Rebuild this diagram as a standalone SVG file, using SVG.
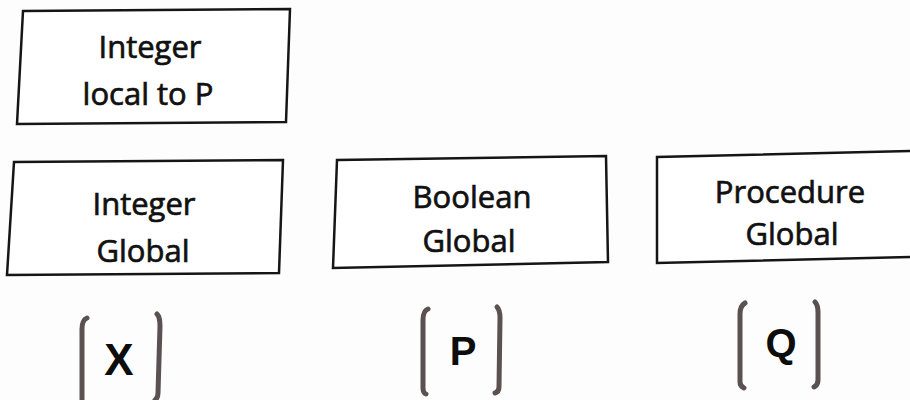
<svg xmlns="http://www.w3.org/2000/svg" width="910" height="400" viewBox="0 0 910 400">
<style>
.box{fill:#fff;stroke:#151515;stroke-width:2.5;stroke-linejoin:miter}
.lbl{font-family:"Open Sans","Noto Sans",sans-serif;font-size:31px;fill:#111;stroke:#111;stroke-width:0.7;text-anchor:middle}
.br{fill:none;stroke:#5a5150;stroke-width:5;stroke-linecap:round;stroke-linejoin:round}
.var{font-family:"Liberation Sans",Arial,sans-serif;font-weight:bold;fill:#0d0d0d;text-anchor:middle}
</style>
<rect width="910" height="400" fill="#fdfdfd"/>
<g id="connectors"/>
<g id="node-int-local">
<polygon class="box" points="23,11 290,9 286,122 17,124"/>
<text class="lbl" x="150" y="58">Integer</text>
<text class="lbl" x="148" y="105">local to P</text>
</g>
<g id="node-int-global">
<polygon class="box" points="14,162 283,160 279,273 7,275"/>
<text class="lbl" x="144" y="215">Integer</text>
<text class="lbl" x="143" y="262">Global</text>
</g>
<g id="node-bool-global">
<polygon class="box" points="337,160 606,156 608,262 333,268"/>
<text class="lbl" x="472" y="208">Boolean</text>
<text class="lbl" x="469" y="252">Global</text>
</g>
<g id="node-proc-global">
<path class="box" d="M910,151 L657,157 L657,263 L910,257"/>
<text class="lbl" x="790" y="203">Procedure</text>
<text class="lbl" x="792" y="245">Global</text>
</g>
<g id="node-x">
<path class="br" d="M87,318 Q82,320 82,329 L82,400"/>
<path class="br" d="M157,314 Q160,317 160,326 L158,393 Q158,398 155,400"/>
<text class="var" x="119" y="375" font-size="44">X</text>
</g>
<g id="node-p">
<path class="br" d="M428,309 Q423,311 423,320 L423,388 Q423,393 426,394"/>
<path class="br" d="M497,307 Q500,310 500,318 L499,387 Q499,392 495,393"/>
<text class="var" x="463" y="365" font-size="40">P</text>
</g>
<g id="node-q">
<path class="br" d="M745,303 Q740,306 740,314 L740,382 Q740,386 744,388"/>
<path class="br" d="M815,302 Q818,305 818,312 L818,380 Q818,385 814,387"/>
<text class="var" x="781" y="357" font-size="40">Q</text>
</g>
</svg>
